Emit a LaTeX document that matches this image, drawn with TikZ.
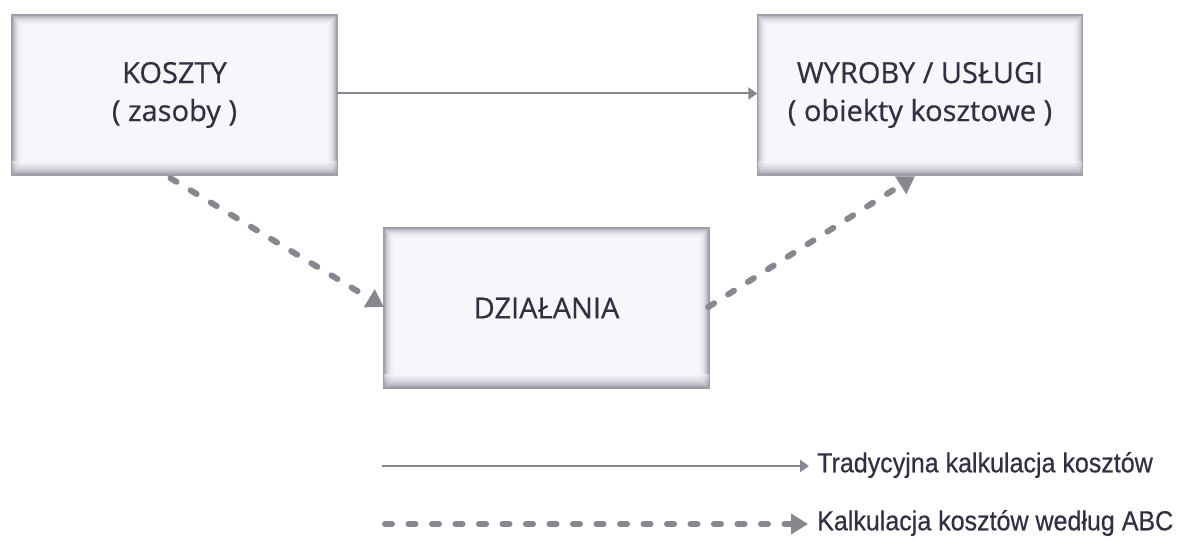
\documentclass[tikz,border=0pt]{standalone}
\usepackage{fontspec}
\setmainfont{Liberation Sans}
\newfontfamily\boxfont[FakeBold=0.6]{Open Sans}
\newfontfamily\legfont[FakeStretch=0.91,FakeBold=0.5]{Liberation Sans}
\usetikzlibrary{arrows.meta}

\definecolor{boxfill}{HTML}{F7F6FB}
\definecolor{boxedge}{HTML}{8F8A98}
\definecolor{inkc}{HTML}{342E40}
\definecolor{linkc}{HTML}{8A8690}

\tikzset{
  stage/.style={minimum width=325pt, minimum height=160pt, inner sep=0pt,
    fill=boxfill},
  stagetext/.style={align=center, text=inkc,
    font=\boxfont\fontsize{29}{38}\selectfont},
  solidlink/.style={draw=linkc, line width=2pt,
    -{Triangle[length=9pt,width=12pt]}},
  abclink/.style={draw=linkc, line width=6pt, line cap=round,
    dash pattern=on 7pt off 16.5pt,
    -{Triangle[length=17pt,width=20pt,line cap=butt]}},
  legtext/.style={anchor=west, inner sep=0pt, text=inkc,
    font=\legfont\fontsize{27.5}{30}\selectfont},
}

% inner shadow of a box node
\newcommand\boxglow[1]{%
  \foreach \i/\o in {0.5/0.8,1.5/0.6,2.5/0.46,3.5/0.35,4.5/0.26,5.5/0.19,6.5/0.13,7.5/0.08,8.5/0.05,9.5/0.03}
    \draw[boxedge, draw opacity=\o, line width=1pt]
      ([shift={(\i pt,-\i pt)}]#1.north west) rectangle ([shift={(-\i pt,\i pt)}]#1.south east);
  \shade[top color=boxfill, bottom color=boxedge, opacity=0.5]
    ([shift={(0pt,14pt)}]#1.south west) rectangle (#1.south east);
  \draw[boxedge!85, line width=0.8pt] (#1.north west) rectangle (#1.south east);
}

\begin{document}
\begin{tikzpicture}[x=1pt, y=-1pt]
  \useasboundingbox (0,0) rectangle (1190,540);
  \fill[white] (0,0) rectangle (1190,540);

  % boxes
  \node[stage] (koszty) at (174.5,95) {};
  \boxglow{koszty}
  \node[stagetext] (kosztyt) at (koszty.center) {KOSZTY\\( zasoby )};

  \node[stage] (wyroby) at (920,95) {};
  \boxglow{wyroby}
  \node[stagetext] (wyrobyt) at (wyroby.center) {WYROBY / USŁUGI\\( obiekty kosztowe )};

  \node[stage] (dzialania) at (546.5,308) {};
  \boxglow{dzialania}
  \node[stagetext] (dzialaniat) at (dzialania.center) {DZIAŁANIA};

  % connectors
  \draw[solidlink] ([yshift=1.5pt]koszty.east) -- ([yshift=1.5pt]wyroby.west);
  \draw[abclink] ([shift={(-4pt,-3pt)}]koszty.south) -- ([yshift=1pt]dzialania.west);
  \draw[abclink] ([shift={(-1pt,1pt)}]dzialania.east) -- ([shift={(-5pt,-1pt)}]wyroby.south);

  % legend
  \coordinate (leg1) at (382,466);
  \node[legtext] (trad) at (817,465) {Tradycyjna kalkulacja kosztów};
  \draw[solidlink, shorten >=8pt] (leg1) -- (leg1 -| trad.west);

  \coordinate (leg2) at (385,524);
  \node[legtext] (abc) at (817,523) {Kalkulacja kosztów według ABC};
  \draw[abclink, shorten >=9pt] (leg2) -- (leg2 -| abc.west);
\end{tikzpicture}
\end{document}
